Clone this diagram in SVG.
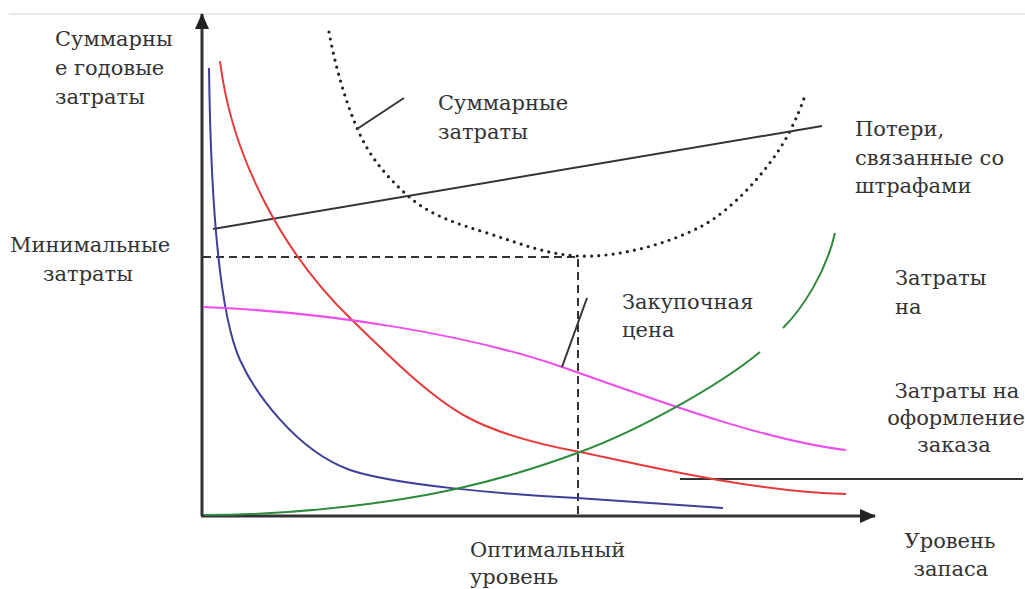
<svg xmlns="http://www.w3.org/2000/svg" width="1025" height="589" viewBox="0 0 1025 589">
  <style>
    .lbl { font-family: "DejaVu Serif", "Liberation Serif", serif; font-size: 21px; fill: #333; }
    .mid { text-anchor: middle; }
    .axis { stroke: #333; stroke-width: 3; fill: none; }
    .curve { fill: none; stroke-width: 2; }
    .thin { stroke: #333; stroke-width: 2; fill: none; }
    .dash { stroke: #333; stroke-width: 2; fill: none; stroke-dasharray: 8 5; }
    .dots { stroke: #222; stroke-width: 3.2; fill: none; stroke-linecap: round; stroke-dasharray: 0 7.2; }
  </style>
  <defs>
    <marker id="arrow" viewBox="0 0 16 14" refX="15" refY="7" markerWidth="16" markerHeight="14" markerUnits="userSpaceOnUse" orient="auto">
      <path d="M0,0 L16,7 L0,14 Z" fill="#222"/>
    </marker>
  </defs>
  <rect width="1025" height="589" fill="#fff"/>
  <line x1="9" y1="14" x2="1025" y2="14" stroke="#d2d2d2" stroke-width="1"/>

  <!-- axes -->
  <g id="axes">
    <line class="axis" x1="202" y1="516" x2="202" y2="14" marker-end="url(#arrow)"/>
    <line class="axis" x1="201" y1="516" x2="875" y2="516" marker-end="url(#arrow)"/>
  </g>

  <g id="connectors">
    <!-- optimum guide lines -->
    <path class="dash" d="M203,257 H578 V515"/>
    <!-- total cost (dotted U) -->
    <path class="dots" d="M329,32 C335,65 345,100 357,128 C369,156 385,175 407,195 C429,215 455,223 487,233 C519,243 545,254 577,256 C615,258 665,245 700,227 C730,212 770,170 790,131 C797,117 802,105 805,95"/>
    <!-- penalty losses -->
    <line class="thin" x1="213" y1="229" x2="822" y2="126"/>
    <!-- order placement baseline -->
    <line class="thin" x1="680" y1="479" x2="1023" y2="479"/>
    <!-- blue hyperbola -->
    <path class="curve" stroke="#3f3f98" d="M209,68 C211,220 222,320 240,360 C254,391 295,450 350,470 C395,485 500,494 577,498 C630,502 680,505 723,508"/>
    <!-- red decreasing -->
    <path class="curve" stroke="#e63a3a" d="M220,61 C232,160 285,255 350,318 C390,357 430,397 467,417 C500,435 548,446 580,452 C620,460 750,492 846,494"/>
    <!-- magenta purchase price -->
    <path class="curve" stroke="#ee4ced" d="M203,307 C330,312 470,335 562,367 C640,394 760,440 846,450"/>
    <!-- green holding cost -->
    <path class="curve" stroke="#2e8a3c" d="M205,515 C290,515 390,504 460,488 C500,479 545,465 580,452 C640,430 720,385 760,352"/>
    <path class="curve" stroke="#2e8a3c" d="M783,328 C803,308 826,272 835,233"/>
    <!-- label leaders -->
    <line class="thin" x1="357" y1="129" x2="404" y2="98"/>
    <line class="thin" x1="562" y1="367" x2="587" y2="298"/>
  </g>

  <g id="y-label">
    <text class="lbl" x="55" y="46">Суммарны</text>
    <text class="lbl" x="55" y="75">е годовые</text>
    <text class="lbl" x="55" y="104">затраты</text>
  </g>
  <g id="min-label">
    <text class="lbl" x="10" y="252">Минимальные</text>
    <text class="lbl mid" x="88" y="281">затраты</text>
  </g>
  <g id="total-label">
    <text class="lbl" x="438" y="110">Суммарные</text>
    <text class="lbl" x="438" y="139">затраты</text>
  </g>
  <g id="penalty-label">
    <text class="lbl" x="855" y="136">Потери,</text>
    <text class="lbl" x="855" y="165">связанные со</text>
    <text class="lbl" x="855" y="193">штрафами</text>
  </g>
  <g id="holding-label">
    <text class="lbl" x="895" y="285">Затраты</text>
    <text class="lbl" x="895" y="314">на</text>
  </g>
  <g id="price-label">
    <text class="lbl" x="622" y="309">Закупочная</text>
    <text class="lbl" x="622" y="337">цена</text>
  </g>
  <g id="order-label">
    <text class="lbl mid" x="957" y="398">Затраты на</text>
    <text class="lbl mid" x="956" y="425">оформление</text>
    <text class="lbl mid" x="954" y="452">заказа</text>
  </g>
  <g id="optimum-label">
    <text class="lbl" x="470" y="557">Оптимальный</text>
    <text class="lbl" x="470" y="584">уровень</text>
  </g>
  <g id="x-label">
    <text class="lbl mid" x="950" y="548">Уровень</text>
    <text class="lbl mid" x="951" y="576">запаса</text>
  </g>
</svg>
